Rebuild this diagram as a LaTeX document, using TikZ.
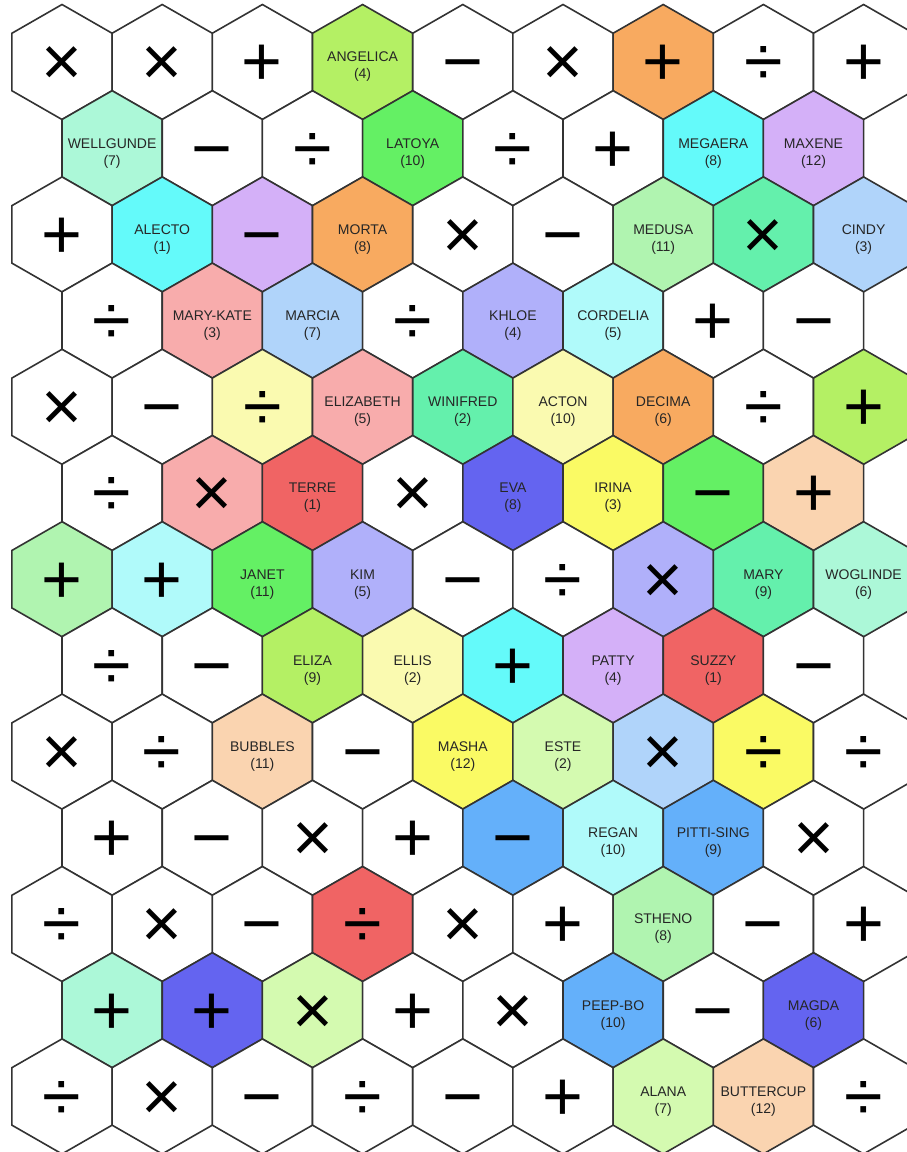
\documentclass[tikz,border=0pt]{standalone}
\usepackage{fontspec}
\setmainfont{Liberation Sans}
\usetikzlibrary{positioning}

\definecolor{cOrange}{RGB}{248,170,96}
\definecolor{cCyan}{RGB}{100,250,250}
\definecolor{cLilac}{RGB}{212,176,248}
\definecolor{cMint}{RGB}{172,248,216}
\definecolor{cLime}{RGB}{180,240,100}
\definecolor{cGreen}{RGB}{100,240,100}
\definecolor{cPaleGreen}{RGB}{176,244,176}
\definecolor{cSea}{RGB}{100,240,172}
\definecolor{cSky}{RGB}{176,212,250}
\definecolor{cPink}{RGB}{248,172,172}
\definecolor{cPeri}{RGB}{176,176,250}
\definecolor{cIce}{RGB}{176,250,250}
\definecolor{cCream}{RGB}{250,250,176}
\definecolor{cRed}{RGB}{240,100,100}
\definecolor{cBlue}{RGB}{100,100,240}
\definecolor{cYellow}{RGB}{250,250,100}
\definecolor{cPeach}{RGB}{250,212,176}
\definecolor{cPaleLime}{RGB}{212,250,176}
\definecolor{cAzure}{RGB}{100,176,250}

\tikzset{
  hexline/.style={draw=black!80, line width=0.8pt, line join=miter},
  opsym/.style={font=\fontsize{35}{35}\selectfont, inner sep=0pt, text height=23.8pt, text depth=0pt},
  namecell/.style={font=\fontsize{7}{8.5}\selectfont, align=center, text=black!85, inner sep=0pt, yshift=-2.5pt}
}

% one row of hexagons: #1 = row number, #2 = col/fill/style/text
\newcommand{\hexrow}[2]{%
  \foreach \c/\fc/\kind/\txt in {#2} {
    \pgfmathsetmacro{\cx}{62+100.2*\c+50.1*mod(#1,2)}
    \pgfmathsetmacro{\cy}{62+86.2*#1}
    \filldraw[hexline, fill=\fc] (\cx,\cy) +(0,-57.5) -- +(50.1,-28.75) -- +(50.1,28.75)
      -- +(0,57.5) -- +(-50.1,28.75) -- +(-50.1,-28.75) -- cycle;
    \node[\kind] (cell-#1-\c) at (\cx,\cy) {\txt};
  }%
}

\begin{document}
\begin{tikzpicture}[x=0.5pt,y=-0.5pt]
\useasboundingbox (0,0) rectangle (906,1152);
\fill[white] (0,0) rectangle (906,1152);

\hexrow{0}{0/white/opsym/×, 1/white/opsym/×, 2/white/opsym/+, 3/cLime/namecell/{ANGELICA\\(4)},
  4/white/opsym/−, 5/white/opsym/×, 6/cOrange/opsym/+, 7/white/opsym/÷, 8/white/opsym/+}
\hexrow{1}{0/cMint/namecell/{WELLGUNDE\\(7)}, 1/white/opsym/−, 2/white/opsym/÷, 3/cGreen/namecell/{LATOYA\\(10)},
  4/white/opsym/÷, 5/white/opsym/+, 6/cCyan/namecell/{MEGAERA\\(8)}, 7/cLilac/namecell/{MAXENE\\(12)}}
\hexrow{2}{0/white/opsym/+, 1/cCyan/namecell/{ALECTO\\(1)}, 2/cLilac/opsym/−, 3/cOrange/namecell/{MORTA\\(8)},
  4/white/opsym/×, 5/white/opsym/−, 6/cPaleGreen/namecell/{MEDUSA\\(11)}, 7/cSea/opsym/×, 8/cSky/namecell/{CINDY\\(3)}}
\hexrow{3}{0/white/opsym/÷, 1/cPink/namecell/{MARY-KATE\\(3)}, 2/cSky/namecell/{MARCIA\\(7)}, 3/white/opsym/÷,
  4/cPeri/namecell/{KHLOE\\(4)}, 5/cIce/namecell/{CORDELIA\\(5)}, 6/white/opsym/+, 7/white/opsym/−}
\hexrow{4}{0/white/opsym/×, 1/white/opsym/−, 2/cCream/opsym/÷, 3/cPink/namecell/{ELIZABETH\\(5)},
  4/cSea/namecell/{WINIFRED\\(2)}, 5/cCream/namecell/{ACTON\\(10)}, 6/cOrange/namecell/{DECIMA\\(6)},
  7/white/opsym/÷, 8/cLime/opsym/+}
\hexrow{5}{0/white/opsym/÷, 1/cPink/opsym/×, 2/cRed/namecell/{TERRE\\(1)}, 3/white/opsym/×,
  4/cBlue/namecell/{EVA\\(8)}, 5/cYellow/namecell/{IRINA\\(3)}, 6/cGreen/opsym/−, 7/cPeach/opsym/+}
\hexrow{6}{0/cPaleGreen/opsym/+, 1/cIce/opsym/+, 2/cGreen/namecell/{JANET\\(11)}, 3/cPeri/namecell/{KIM\\(5)},
  4/white/opsym/−, 5/white/opsym/÷, 6/cPeri/opsym/×, 7/cSea/namecell/{MARY\\(9)}, 8/cMint/namecell/{WOGLINDE\\(6)}}
\hexrow{7}{0/white/opsym/÷, 1/white/opsym/−, 2/cLime/namecell/{ELIZA\\(9)}, 3/cCream/namecell/{ELLIS\\(2)},
  4/cCyan/opsym/+, 5/cLilac/namecell/{PATTY\\(4)}, 6/cRed/namecell/{SUZZY\\(1)}, 7/white/opsym/−}
\hexrow{8}{0/white/opsym/×, 1/white/opsym/÷, 2/cPeach/namecell/{BUBBLES\\(11)}, 3/white/opsym/−,
  4/cYellow/namecell/{MASHA\\(12)}, 5/cPaleLime/namecell/{ESTE\\(2)}, 6/cSky/opsym/×, 7/cYellow/opsym/÷, 8/white/opsym/÷}
\hexrow{9}{0/white/opsym/+, 1/white/opsym/−, 2/white/opsym/×, 3/white/opsym/+, 4/cAzure/opsym/−,
  5/cIce/namecell/{REGAN\\(10)}, 6/cAzure/namecell/{PITTI-SING\\(9)}, 7/white/opsym/×}
\hexrow{10}{0/white/opsym/÷, 1/white/opsym/×, 2/white/opsym/−, 3/cRed/opsym/÷, 4/white/opsym/×,
  5/white/opsym/+, 6/cPaleGreen/namecell/{STHENO\\(8)}, 7/white/opsym/−, 8/white/opsym/+}
\hexrow{11}{0/cMint/opsym/+, 1/cBlue/opsym/+, 2/cPaleLime/opsym/×, 3/white/opsym/+, 4/white/opsym/×,
  5/cAzure/namecell/{PEEP-BO\\(10)}, 6/white/opsym/−, 7/cBlue/namecell/{MAGDA\\(6)}}
\hexrow{12}{0/white/opsym/÷, 1/white/opsym/×, 2/white/opsym/−, 3/white/opsym/÷, 4/white/opsym/−,
  5/white/opsym/+, 6/cPaleLime/namecell/{ALANA\\(7)}, 7/cPeach/namecell/{BUTTERCUP\\(12)}, 8/white/opsym/÷}
\end{tikzpicture}
\end{document}
